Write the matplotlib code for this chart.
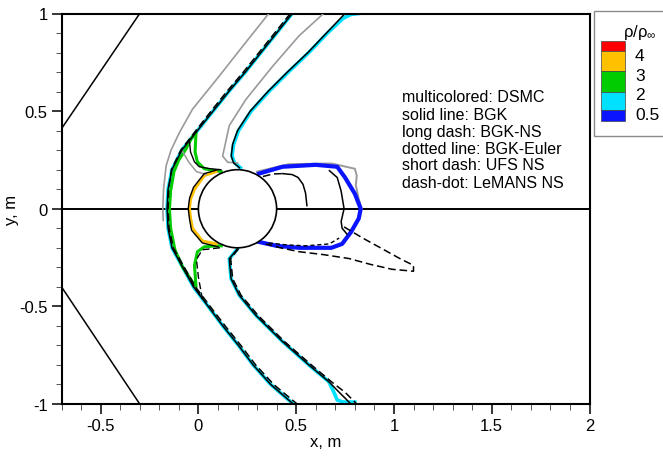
import numpy as np
import matplotlib
matplotlib.use('Agg')
from matplotlib import pyplot as plt
from matplotlib.patches import Circle, Rectangle
from matplotlib.ticker import MultipleLocator, FuncFormatter

plt.rcParams['font.family'] = ['Liberation Sans', 'DejaVu Sans']
plt.rcParams['axes.unicode_minus'] = False
plt.rcParams['mathtext.fontset'] = 'custom'
plt.rcParams['mathtext.rm'] = 'Liberation Sans'
plt.rcParams['mathtext.it'] = 'Liberation Sans'

# cylinder
cyl_x, cyl_y, cyl_r = 0.2, 0.0, 0.2

# mach lines from the far field
mach_up_x = [-0.7, -0.30]
mach_up_y = [0.41, 1.0]
mach_lo_x = [-0.7, -0.30]
mach_lo_y = [-0.40, -1.0]

# outer bow shock (rho = 2)
shock_x = [0.48, 0.40, 0.32, 0.24, 0.155, 0.075, -0.005, -0.085, -0.135, -0.155, -0.16,
           -0.155, -0.135, -0.08, -0.025, 0.05, 0.125, 0.205, 0.28, 0.37, 0.485]
shock_y = [1.0, 0.9, 0.8, 0.7, 0.6, 0.5, 0.4, 0.3, 0.2, 0.1, 0.0,
           -0.1, -0.2, -0.3, -0.4, -0.5, -0.6, -0.7, -0.8, -0.9, -1.0]
shock_dash_x = [0.47, 0.39, 0.31, 0.23, 0.145, 0.065, -0.013, -0.09, -0.138, -0.152, -0.155,
                -0.15, -0.128, -0.072, -0.015, 0.06, 0.137, 0.217, 0.293, 0.385, 0.505]
shock_gray_x = [0.36, 0.243, 0.107, -0.03, -0.097, -0.14, -0.165, -0.178, -0.182, -0.18]
shock_gray_y = [1.0, 0.853, 0.68, 0.51, 0.39, 0.30, 0.22, 0.10, 0.0, -0.06]

# inner band (rho = 2, expansion side)
band_up_x = [0.75, 0.655, 0.56, 0.455, 0.355, 0.265, 0.20, 0.175, 0.168, 0.18, 0.21]
band_up_y = [1.0, 0.9, 0.8, 0.7, 0.6, 0.5, 0.4, 0.33, 0.27, 0.235, 0.21]
band_up_cyan_x = [0.82, 0.78, 0.74, 0.66, 0.565, 0.46, 0.36, 0.27, 0.205, 0.18, 0.172, 0.185, 0.215]
band_up_cyan_y = [1.0, 0.995, 0.975, 0.9, 0.8, 0.7, 0.6, 0.5, 0.4, 0.33, 0.27, 0.235, 0.21]
band_up_gray_x = [0.64, 0.515, 0.38, 0.243, 0.158, 0.124, 0.15, 0.20]
band_up_gray_y = [1.0, 0.886, 0.73, 0.56, 0.426, 0.27, 0.238, 0.235]
band_lo_x = [0.20, 0.158, 0.167, 0.209, 0.294, 0.43, 0.565, 0.667, 0.72, 0.78]
band_lo_y = [-0.205, -0.256, -0.358, -0.443, -0.546, -0.68, -0.80, -0.886, -0.94, -1.0]
band_lo_dash_x = [0.205, 0.165, 0.175, 0.218, 0.305, 0.44, 0.578, 0.68, 0.75, 0.81]
band_lo_cyan_x = [0.20, 0.158, 0.167, 0.209, 0.294, 0.43, 0.565, 0.667, 0.693, 0.71, 0.74, 0.80]
band_lo_cyan_y = [-0.205, -0.256, -0.358, -0.443, -0.546, -0.68, -0.80, -0.886, -0.94, -0.98, -0.99, -0.99]

# rho = 3 (green), horns on both shoulders and inner edge of the shock
green_x = [0.117, 0.09, 0.03, -0.005, -0.017, -0.012, -0.037, -0.063, -0.10, -0.125, -0.142,
           -0.148, -0.142, -0.12, -0.08, -0.03, -0.012, -0.02, -0.005, 0.03, 0.09, 0.117]
green_y = [0.19, 0.195, 0.205, 0.24, 0.29, 0.392, 0.358, 0.307, 0.25, 0.19, 0.09,
           0.0, -0.10, -0.21, -0.30, -0.375, -0.40, -0.29, -0.22, -0.195, -0.19, -0.19]
horn_up_x = [-0.045, -0.04, -0.02, 0.005, 0.06, 0.115]
horn_up_y = [0.34, 0.29, 0.24, 0.215, 0.205, 0.20]
horn_lo_x = [0.11, 0.02, -0.01, 0.0, 0.02, -0.02, -0.06]
horn_lo_y = [-0.20, -0.21, -0.26, -0.35, -0.46, -0.40, -0.33]
horn_gray_x = [-0.085, -0.05, -0.01, 0.04]
horn_gray_y = [0.30, 0.24, 0.19, 0.175]

# rho = 4 (orange) around the stagnation point
orange_x = [0.09, 0.03, -0.02, -0.04, -0.046, -0.04, -0.03, 0.02, 0.09]
orange_y = [0.19, 0.17, 0.10, 0.05, 0.0, -0.05, -0.10, -0.165, -0.18]
stag_x = [0.10, 0.03, -0.025, -0.045, -0.052, -0.045, -0.035, 0.02, 0.10]
stag_y = [0.20, 0.18, 0.11, 0.055, 0.0, -0.055, -0.11, -0.175, -0.195]

# rho = 0.5 (blue) in the wake
blue_x = [0.31, 0.43, 0.60, 0.71, 0.75, 0.80, 0.83, 0.82, 0.78, 0.735, 0.68, 0.515, 0.40, 0.31]
blue_y = [0.18, 0.215, 0.225, 0.215, 0.16, 0.077, 0.0, -0.05, -0.12, -0.18, -0.20, -0.20, -0.19, -0.17]
wake_gray_x = [0.30, 0.46, 0.68, 0.80, 0.81, 0.805, 0.82, 0.835]
wake_gray_y = [0.19, 0.228, 0.232, 0.205, 0.17, 0.12, 0.05, 0.0]
wake_a_dash_x = [0.33, 0.38, 0.43]
wake_a_dash_y = [0.165, 0.178, 0.18]
wake_a_x = [0.43, 0.48, 0.51, 0.535, 0.548, 0.555]
wake_a_y = [0.18, 0.175, 0.16, 0.125, 0.08, 0.016]
wake_b_x = [0.67, 0.71, 0.73, 0.745, 0.73, 0.735, 0.76]
wake_b_y = [0.195, 0.16, 0.09, 0.0, -0.065, -0.10, -0.13]
tail_x = [0.745, 0.84, 0.94, 1.03, 1.10, 1.10, 0.99, 0.88, 0.77, 0.64, 0.515, 0.42, 0.345]
tail_y = [-0.093, -0.15, -0.205, -0.255, -0.29, -0.32, -0.31, -0.285, -0.255, -0.235, -0.22, -0.20, -0.18]
short_x = [0.36, 0.45, 0.55, 0.67, 0.72]
short_y = [-0.175, -0.185, -0.19, -0.18, -0.15]

notes = ['multicolored: DSMC', 'solid line: BGK', 'long dash: BGK-NS',
         'dotted line: BGK-Euler', 'short dash: UFS NS', 'dash-dot: LeMANS NS']

lev_labels = ['4', '3', '2', '0.5']
lev_colors = ['#ff0000', '#ffc000', '#00cc00', '#00e0ff', '#0a14ff']

W, H = 663, 460
fig = plt.figure(figsize=(W / 100, H / 100), dpi=100)
ax = fig.add_axes([61.5 / W, (H - 405) / H, 528 / W, 390.5 / H])

cyan = lev_colors[3]
green = lev_colors[2]
orange = lev_colors[1]
blue = lev_colors[4]
gray = '#9a9a9a'
dash = (0, (5, 2.5))

ax.axhline(0, color='k', lw=1.4, zorder=1)
ax.plot(mach_up_x, mach_up_y, color='k', lw=1.1)
ax.plot(mach_lo_x, mach_lo_y, color='k', lw=1.1)

# DSMC (colored)
ax.plot(shock_x, shock_y, color=cyan, lw=2.6, zorder=2)
ax.plot(band_up_cyan_x, band_up_cyan_y, color=cyan, lw=2.6, zorder=2)
ax.plot(band_lo_cyan_x, band_lo_cyan_y, color=cyan, lw=2.6, zorder=2)
ax.plot(green_x, green_y, color=green, lw=2.2, zorder=2)
ax.plot(orange_x, orange_y, color=orange, lw=2.2, zorder=2)
ax.plot(blue_x, blue_y, color=blue, lw=3.0, zorder=2)

# gray
ax.plot(shock_gray_x, shock_gray_y, color=gray, lw=1.2, zorder=3)
ax.plot(band_up_gray_x, band_up_gray_y, color=gray, lw=1.2, zorder=3)
ax.plot(horn_gray_x, horn_gray_y, color=gray, lw=1.1, zorder=3)
ax.plot(wake_gray_x, wake_gray_y, color=gray, lw=1.4, zorder=1.5)

# BGK solid
ax.plot(shock_x, shock_y, color='k', lw=1.1, zorder=4)
ax.plot(band_up_x, band_up_y, color='k', lw=1.1, zorder=4)
ax.plot(band_lo_x, band_lo_y, color='k', lw=1.1, zorder=4)
ax.plot(horn_up_x, horn_up_y, color='k', lw=1.0, zorder=4)
ax.plot(stag_x, stag_y, color='k', lw=1.0, zorder=4)
ax.plot(wake_a_x, wake_a_y, color='k', lw=1.1, zorder=4)
ax.plot(wake_b_x, wake_b_y, color='k', lw=1.1, zorder=4)

# dashed
ax.plot(shock_dash_x, shock_y, color='k', lw=1.1, ls=dash, zorder=4)
ax.plot(band_lo_dash_x, band_lo_y, color='k', lw=1.1, ls=dash, zorder=4)
ax.plot(horn_lo_x, horn_lo_y, color='k', lw=1.0, ls=dash, zorder=4)
ax.plot(wake_a_dash_x, wake_a_dash_y, color='k', lw=1.1, ls=dash, zorder=4)
ax.plot(tail_x, tail_y, color='k', lw=1.1, ls=dash, zorder=4)
ax.plot(short_x, short_y, color='k', lw=1.0, ls=(0, (3, 2)), zorder=4)

ax.add_patch(Circle((cyl_x, cyl_y), cyl_r, facecolor='white', edgecolor='k', lw=1.2, zorder=6))

ax.set_xlim(-0.7, 2)
ax.set_ylim(-1, 1)
ax.xaxis.set_major_locator(MultipleLocator(0.5))
ax.xaxis.set_minor_locator(MultipleLocator(0.1))
ax.yaxis.set_major_locator(MultipleLocator(0.5))
ax.yaxis.set_minor_locator(MultipleLocator(0.1))
fmt = FuncFormatter(lambda v, p: '%g' % round(v, 2))
ax.xaxis.set_major_formatter(fmt)
ax.yaxis.set_major_formatter(fmt)
ax.tick_params(which='major', direction='out', length=7, width=1.1, labelsize=12, pad=3)
ax.tick_params(which='minor', direction='out', length=4.3, width=0.7, color='#555555')
for s in ax.spines.values():
    s.set_linewidth(1.5)
ax.set_xlabel('x, m', fontsize=12, labelpad=1)
ax.set_ylabel('y, m', fontsize=12, labelpad=0)

# notes
for i, t in enumerate(notes):
    fig.text(402.5 / W, 1 - (98 + 17 * i) / H, t, fontsize=11.5, va='center', ha='left')

# legend box
fig.patches.append(Rectangle((593.5 / W, 1 - 137 / H), 80 / W, 125 / H, transform=fig.transFigure,
                             facecolor='white', edgecolor='#8a8a8a', lw=1.0))
fig.text(640 / W, 1 - 33 / H, r'ρ/ρ$_\infty$', fontsize=12, ha='center', va='center')
edges = [41.7, 51.7, 71.7, 92.7, 111.0, 121.7]
for i, c in enumerate(lev_colors):
    y0, y1 = edges[i], edges[i + 1]
    fig.patches.append(Rectangle((601 / W, 1 - y1 / H), 24 / W, (y1 - y0) / H, transform=fig.transFigure,
                                 facecolor=c, edgecolor='#444444', lw=0.5))
lab_y = [56.7, 76.7, 95.0, 116.0]
for t, yy in zip(lev_labels, lab_y):
    fig.text(635 / W, 1 - yy / H, t, fontsize=12.5, ha='left', va='center')

fig.savefig('out.png', dpi=100)
